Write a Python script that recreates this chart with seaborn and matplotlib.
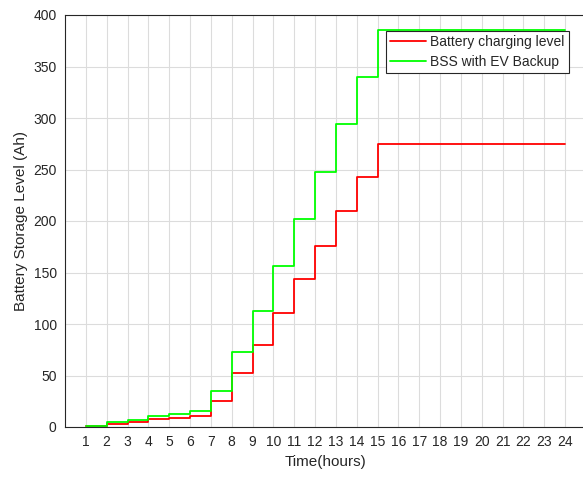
import numpy as np
import pandas as pd
import matplotlib
matplotlib.use("Agg")
import matplotlib.pyplot as plt
import seaborn as sns


HOURS = list(range(1, 25))
BATTERY_LEVEL = [1, 2.5, 4.7, 7.5, 8.7, 10.7, 25, 52, 80, 110.5, 143.5, 176,
                 210, 243, 275, 275, 275, 275, 275, 275, 275, 275, 275, 275]
BSS_EV_BACKUP = [1, 4.5, 7, 10.4, 12.6, 15.5, 35, 72.5, 113, 156, 202, 248,
                 294, 340, 385, 385, 385, 385, 385, 385, 385, 385, 385, 385]
SERIES_NAMES = ['Battery charging level', 'BSS with EV Backup']
Y_TICKS = list(range(0, 401, 50))

sns.set_style('white')
plt.rcParams['font.family'] = ['Liberation Sans', 'DejaVu Sans']

data = pd.DataFrame({
    'Hour': HOURS * 2,
    'Level': BATTERY_LEVEL + BSS_EV_BACKUP,
    'Series': [SERIES_NAMES[0]] * len(HOURS) + [SERIES_NAMES[1]] * len(HOURS),
})

fig = plt.figure(figsize=(5.83, 4.8), dpi=100)
ax = fig.add_axes([65 / 583, 53 / 480, 521 / 583, 412 / 480])

sns.lineplot(data=data, x='Hour', y='Level', hue='Series', palette=['#ff0000', '#00ff00'],
             drawstyle='steps-post', linewidth=1.3, ax=ax, legend=False)

ax.set_xlim(0, 25)
ax.set_ylim(0, 400)
ax.set_xticks(HOURS)
ax.set_yticks(Y_TICKS)
ax.grid(True, color='#dcdcdc', linewidth=0.8)
ax.set_axisbelow(True)
ax.tick_params(direction='in', length=4, width=0.8, colors='#262626', labelsize=10, pad=6)
for side in ['left', 'bottom', 'top']:
    ax.spines[side].set_color('#262626')
    ax.spines[side].set_linewidth(0.8)
ax.set_xlabel('Time(hours)', fontsize=11, color='#262626')
ax.set_ylabel('Battery Storage Level (Ah)', fontsize=11, color='#262626')

handles = [plt.Line2D([], [], color='#ff0000', linewidth=1.3),
           plt.Line2D([], [], color='#00ff00', linewidth=1.3)]
leg = fig.legend(handles, SERIES_NAMES, loc='upper right', bbox_to_anchor=(569 / 583, 1 - 31 / 480),
                 fontsize=10, frameon=True, fancybox=False, borderpad=0.3, handlelength=2.6,
                 labelspacing=0.4, handletextpad=0.3, borderaxespad=0)
leg.get_frame().set_edgecolor('#262626')
leg.get_frame().set_linewidth(0.8)
leg.get_frame().set_alpha(1)

fig.savefig('out.png', dpi=100)
